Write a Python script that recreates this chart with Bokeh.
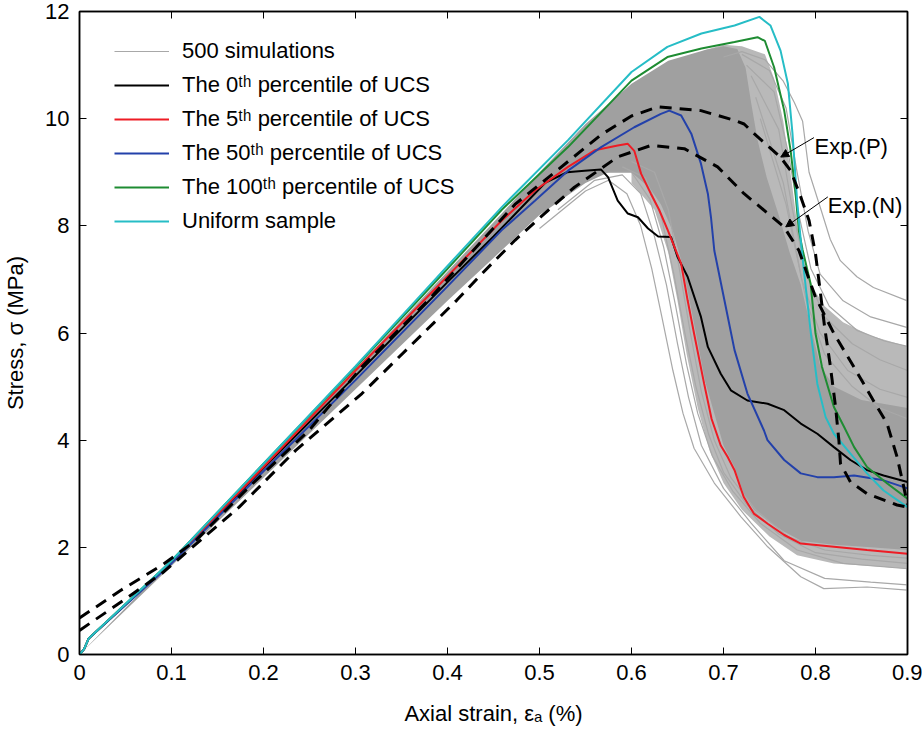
from bokeh.plotting import figure
from bokeh.models import (Range1d, LinearAxis, FixedTicker, CustomJSTickFormatter, Legend, LegendItem,
                          Label, Arrow, NormalHead)
from bokeh.embed import file_html
from bokeh.resources import INLINE

# ---------------- data ----------------
x_ticks = [0, 0.1, 0.2, 0.3, 0.4, 0.5, 0.6, 0.7, 0.8, 0.9]
x_tick_labels = ["0", "0.1", "0.2", "0.3", "0.4", "0.5", "0.6", "0.7", "0.8", "0.9"]
y_ticks = [0, 2, 4, 6, 8, 10, 12]
y_tick_labels = ["0", "2", "4", "6", "8", "10", "12"]

# envelope of the dense part of the 500 simulated curves
band_dense_x = [0, 0.1, 0.2, 0.3, 0.4, 0.46, 0.5, 0.55, 0.6, 0.64, 0.68, 0.70, 0.715,
                0.724, 0.73, 0.737, 0.747, 0.76, 0.772, 0.784, 0.795, 0.805, 0.82, 0.85, 0.9,
                0.9, 0.86, 0.82, 0.785, 0.765, 0.748, 0.733, 0.722, 0.712, 0.70, 0.69, 0.68,
                0.67, 0.662, 0.655, 0.645, 0.632, 0.62, 0.60, 0.575, 0.55, 0.5, 0.45, 0.4,
                0.3, 0.2, 0.1, 0.0]
band_dense_y = [0, 1.74, 3.54, 5.33, 7.15, 8.25, 9.0, 9.9, 10.65, 11.08, 11.28, 11.35, 11.3,
                10.95, 10.3, 9.6, 8.9, 8.2, 7.5, 6.9, 6.1, 5.4, 5.0, 4.75, 4.6,
                1.95, 2.0, 2.05, 2.12, 2.3, 2.5, 2.7, 3.0, 3.5, 3.9, 4.5, 5.1,
                6.0, 6.7, 7.3, 7.9, 8.4, 8.7, 9.0, 9.0, 8.8, 8.2, 7.4, 6.6,
                4.95, 3.3, 1.65, 0.0]
# wider envelope where the simulated curves are sparser
band_loose_x = [0.6, 0.68, 0.70, 0.72, 0.745, 0.755, 0.765, 0.772, 0.778, 0.785, 0.795,
                0.81, 0.83, 0.86, 0.9, 0.9, 0.86, 0.82, 0.78, 0.75, 0.72, 0.70, 0.685,
                0.672, 0.66, 0.65, 0.64, 0.625, 0.6]
band_loose_y = [10.6, 11.28, 11.38, 11.35, 11.2, 10.75, 9.95, 9.1, 8.3, 7.4, 6.9,
                6.5, 6.2, 5.95, 5.75, 1.6, 1.65, 1.7, 1.85, 2.2, 2.7, 3.2, 3.8,
                4.6, 5.6, 6.6, 7.5, 8.3, 8.8]

# individual simulated curves at the edges of the bundle
sim_x = [
    [0.70, 0.72, 0.745, 0.765, 0.777, 0.786, 0.793, 0.806, 0.816, 0.827, 0.845, 0.863, 0.9],
    [0.72, 0.75, 0.768, 0.78, 0.792, 0.805, 0.83, 0.86, 0.9],
    [0.725, 0.755, 0.77, 0.782, 0.795, 0.815, 0.845, 0.875, 0.9],
    [0.73, 0.76, 0.775, 0.79, 0.81, 0.84, 0.87, 0.9],
    [0.735, 0.765, 0.785, 0.805, 0.835, 0.87, 0.9],
    [0.74, 0.768, 0.79, 0.81, 0.84, 0.87, 0.9],
    [0.5, 0.55, 0.575, 0.595, 0.61, 0.622, 0.633, 0.645, 0.656, 0.668, 0.69, 0.719, 0.748, 0.784, 0.809, 0.856, 0.9],
    [0.52, 0.56, 0.59, 0.61, 0.625, 0.638, 0.65, 0.662, 0.676, 0.7, 0.73, 0.766, 0.81, 0.86, 0.9],
    [0.57, 0.6, 0.62, 0.635, 0.648, 0.66, 0.672, 0.688, 0.71, 0.74, 0.78, 0.83, 0.9],
    [0.59, 0.615, 0.632, 0.646, 0.658, 0.67, 0.684, 0.7, 0.725, 0.76, 0.8, 0.85, 0.9],
    [0.6, 0.625, 0.64, 0.652, 0.664, 0.676, 0.69, 0.708, 0.735, 0.77, 0.81, 0.86, 0.9],
]
sim_y = [
    [11.15, 11.25, 11.1, 10.7, 10.3, 9.95, 9.0, 8.3, 7.75, 7.35, 7.05, 6.85, 6.6],
    [11.2, 10.9, 10.2, 9.0, 7.9, 7.1, 6.6, 6.3, 6.1],
    [11.0, 10.5, 9.4, 8.2, 7.2, 6.5, 6.05, 5.85, 5.75],
    [10.8, 9.8, 8.3, 7.1, 6.3, 5.8, 5.5, 5.3],
    [10.4, 8.8, 7.0, 6.0, 5.3, 4.95, 4.8],
    [10.0, 8.4, 6.6, 5.6, 5.0, 4.6, 4.4],
    [7.95, 8.65, 8.85, 8.6, 8.0, 7.2, 6.3, 5.3, 4.5, 3.85, 3.2, 2.57, 2.01, 1.45, 1.23, 1.26, 1.2],
    [8.3, 8.85, 8.95, 8.6, 7.8, 6.9, 5.8, 4.8, 3.9, 3.1, 2.45, 1.75, 1.42, 1.35, 1.3],
    [9.0, 9.0, 8.5, 7.6, 6.5, 5.4, 4.5, 3.7, 3.05, 2.45, 1.95, 1.7, 1.6],
    [9.1, 8.9, 8.2, 7.1, 6.0, 5.0, 4.1, 3.4, 2.8, 2.25, 1.9, 1.78, 1.7],
    [9.2, 9.0, 8.3, 7.2, 6.0, 4.9, 4.0, 3.3, 2.7, 2.2, 1.95, 1.85, 1.8],
]

# 0th percentile of UCS (black)
p0_x = [0, 0.005, 0.01, 0.1, 0.2, 0.3, 0.4, 0.45, 0.506, 0.53, 0.549, 0.567, 0.5745, 0.585, 0.596,
        0.607, 0.618, 0.629, 0.643, 0.65, 0.661, 0.6755, 0.683, 0.697, 0.708, 0.726, 0.748,
        0.766, 0.784, 0.802, 0.82, 0.838, 0.856, 0.874, 0.9]
p0_y = [0, 0.1, 0.3, 1.72, 3.48, 5.2, 6.95, 7.8, 8.8, 9.0, 9.03, 9.05, 8.91, 8.47, 8.23,
        8.16, 7.95, 7.8, 7.79, 7.42, 7.05, 6.3, 5.74, 5.24, 4.93, 4.74, 4.68,
        4.56, 4.31, 4.12, 3.87, 3.63, 3.44, 3.34, 3.22]
# 5th percentile (red)
p5_x = [0, 0.005, 0.01, 0.1, 0.2, 0.3, 0.4, 0.459, 0.495, 0.531, 0.56, 0.585, 0.596, 0.603,
        0.6105, 0.621, 0.63, 0.6394, 0.654, 0.661, 0.668, 0.679, 0.687, 0.697, 0.7044, 0.712,
        0.722, 0.733, 0.748, 0.766, 0.784, 0.82, 0.856, 0.9]
p5_y = [0, 0.1, 0.3, 1.72, 3.5, 5.3, 7.06, 8.1, 8.66, 9.1, 9.41, 9.5, 9.53, 9.4,
        8.97, 8.6, 8.3, 7.92, 7.29, 6.61, 5.99, 5.05, 4.4, 3.9, 3.69, 3.44,
        2.94, 2.63, 2.44, 2.23, 2.07, 2.01, 1.95, 1.88]
# 50th percentile (blue)
p50_x = [0, 0.005, 0.01, 0.1, 0.2, 0.3, 0.4, 0.459, 0.495, 0.531, 0.567, 0.603, 0.632, 0.641,
         0.654, 0.665, 0.6755, 0.683, 0.6864, 0.69, 0.701, 0.712, 0.726, 0.744, 0.7478,
         0.766, 0.784, 0.802, 0.82, 0.842, 0.874, 0.9]
p50_y = [0, 0.1, 0.3, 1.7, 3.42, 5.12, 6.87, 7.92, 8.47, 9.03, 9.47, 9.84, 10.09, 10.15,
         10.06, 9.72, 9.16, 8.6, 8.16, 7.54, 6.61, 5.68, 4.87, 4.18, 4.0,
         3.63, 3.38, 3.31, 3.31, 3.34, 3.25, 3.1]
# 100th percentile (green)
p100_x = [0, 0.005, 0.01, 0.1, 0.2, 0.3, 0.4, 0.459, 0.531, 0.6, 0.639, 0.676, 0.712, 0.737,
          0.745, 0.755, 0.766, 0.773, 0.778, 0.782, 0.786, 0.7947, 0.8, 0.807, 0.82, 0.831,
          0.842, 0.856, 0.878, 0.9]
p100_y = [0, 0.1, 0.3, 1.75, 3.56, 5.36, 7.2, 8.3, 9.47, 10.71, 11.15, 11.31, 11.43, 11.52,
          11.45, 10.96, 10.15, 9.4, 8.66, 7.9, 7.55, 6.92, 5.99, 5.37, 4.62, 4.25,
          3.87, 3.5, 3.19, 2.91]
# uniform sample (cyan)
uni_x = [0, 0.005, 0.01, 0.1, 0.2, 0.3, 0.3657, 0.4, 0.459, 0.531, 0.6, 0.639, 0.676, 0.712,
         0.739, 0.751, 0.762, 0.77, 0.775, 0.78, 0.784, 0.787, 0.795, 0.802, 0.811, 0.82,
         0.838, 0.856, 0.874, 0.9]
uni_y = [0, 0.1, 0.3, 1.75, 3.56, 5.38, 6.61, 7.25, 8.35, 9.6, 10.87, 11.34, 11.59, 11.74,
         11.9, 11.74, 11.27, 10.65, 9.72, 8.47, 7.73, 7.23, 5.99, 5.05, 4.43, 4.12,
         3.75, 3.38, 3.06, 2.75]
# experiments (dashed)
expP_x = [0, 0.045, 0.09, 0.1266, 0.1844, 0.2494, 0.307, 0.379, 0.4733, 0.531, 0.567, 0.6,
          0.6286, 0.6755, 0.7116, 0.7224, 0.7333, 0.7478, 0.762, 0.773, 0.784, 0.793, 0.8,
          0.805, 0.81, 0.816, 0.8218, 0.8254, 0.8272, 0.838, 0.856, 0.8886, 0.9]
expP_y = [0.68, 1.2, 1.67, 2.13, 3.13, 4.18, 5.37, 6.61, 8.4, 9.2, 9.7, 10.05,
          10.22, 10.15, 9.97, 9.9, 9.72, 9.5, 9.28, 9.03, 8.54, 8.1, 7.48,
          6.8, 6.1, 5.4, 4.62, 4.0, 3.56, 3.22, 3.0, 2.79, 2.75]
expN_x = [0, 0.047, 0.09, 0.1735, 0.235, 0.307, 0.41, 0.437, 0.4733, 0.5094, 0.538, 0.5853,
          0.6213, 0.6574, 0.6936, 0.7224, 0.7658, 0.782, 0.791, 0.8, 0.82, 0.8416, 0.867,
          0.8778, 0.8886, 0.895, 0.9]
expN_y = [0.45, 1.0, 1.52, 2.75, 3.81, 4.87, 6.61, 7.1, 7.73, 8.29, 8.72, 9.29,
          9.5, 9.44, 9.1, 8.6, 7.98, 7.54, 7.1, 6.67, 5.99, 5.37, 4.62,
          4.31, 3.69, 3.2, 2.8]

# ---------------- figure ----------------
FONT = "Liberation Sans"
p = figure(width=922, height=733, x_range=Range1d(0, 0.9), y_range=Range1d(0, 12),
           output_backend="svg", toolbar_location=None,
           min_border_left=76, min_border_right=15, min_border_top=11, min_border_bottom=79)
p.xgrid.grid_line_color = None
p.ygrid.grid_line_color = None
p.outline_line_color = "black"
p.outline_line_width = 1.5
p.background_fill_color = "white"

p.xaxis.ticker = FixedTicker(ticks=x_ticks)
p.xaxis.major_label_overrides = {t: l for t, l in zip(x_ticks, x_tick_labels)}
p.yaxis.ticker = FixedTicker(ticks=y_ticks)
p.yaxis.major_label_overrides = {t: l for t, l in zip(y_ticks, y_tick_labels)}
for ax in (p.xaxis[0], p.yaxis[0]):
    ax.major_tick_in = 7
    ax.major_tick_out = 0
    ax.minor_tick_in = 0
    ax.minor_tick_out = 0
    ax.axis_line_color = "black"
    ax.axis_line_width = 1.5
    ax.major_tick_line_color = "black"
    ax.major_tick_line_width = 1
    ax.major_label_text_font = FONT
    ax.major_label_text_font_size = "22px"
    ax.major_label_text_color = "black"
    ax.axis_label_text_font = FONT
    ax.axis_label_text_font_size = "22px"
    ax.axis_label_text_font_style = "normal"
    ax.axis_label_text_color = "black"
p.xaxis.axis_label = "Axial strain, \u03b5\u2090 (%)"
p.yaxis.axis_label = "Stress, \u03c3 (MPa)"
p.xaxis.major_label_standoff = 10
p.yaxis.major_label_standoff = 10
p.xaxis.axis_label_standoff = 18
p.yaxis.axis_label_standoff = 14

# mirrored inward ticks on the top and right
for loc, ticks in (("above", x_ticks), ("right", y_ticks)):
    ax = LinearAxis(ticker=FixedTicker(ticks=ticks),
                    formatter=CustomJSTickFormatter(code="return ''"),
                    major_tick_in=7, major_tick_out=0, minor_tick_in=0, minor_tick_out=0,
                    major_label_standoff=0, axis_line_color="black", axis_line_width=1.5,
                    major_tick_line_color="black")
    p.add_layout(ax, loc)

# simulated bundle
p.patch(band_loose_x, band_loose_y, fill_color="#b9b9b9", line_color=None)
p.patch(band_dense_x, band_dense_y, fill_color="#a0a0a0", line_color=None)
r_sim = p.multi_line(sim_x, sim_y, line_color="#a8a8a8", line_width=1.2)

r0 = p.line(p0_x, p0_y, line_color="black", line_width=2)
r5 = p.line(p5_x, p5_y, line_color="#ee1c25", line_width=2)
r50 = p.line(p50_x, p50_y, line_color="#2341aa", line_width=2)
r100 = p.line(p100_x, p100_y, line_color="#1e8c32", line_width=2)
runi = p.line(uni_x, uni_y, line_color="#26bdc6", line_width=2)

p.line(expP_x, expP_y, line_color="black", line_width=3, line_dash="12 8")
p.line(expN_x, expN_y, line_color="black", line_width=3, line_dash="12 8")

# annotations
p.add_layout(Label(x=0.799, y=9.48, text="Exp.(P)", text_font=FONT, text_font_size="22px",
                   text_baseline="alphabetic", text_color="black"))
p.add_layout(Label(x=0.8134, y=8.38, text="Exp.(N)", text_font=FONT, text_font_size="22px",
                   text_baseline="alphabetic", text_color="black"))
p.add_layout(Arrow(end=NormalHead(size=8, fill_color="black", line_color="black"),
                   x_start=0.7983, y_start=9.646, x_end=0.7622, y_end=9.283,
                   line_color="black", line_width=1))
p.add_layout(Arrow(end=NormalHead(size=8, fill_color="black", line_color="black"),
                   x_start=0.8134, y_start=8.54, x_end=0.7676, y_end=7.98,
                   line_color="black", line_width=1))

legend = Legend(items=[
    LegendItem(label="500 simulations", renderers=[r_sim]),
    LegendItem(label="The 0\u1d57\u02b0 percentile of UCS", renderers=[r0]),
    LegendItem(label="The 5\u1d57\u02b0 percentile of UCS", renderers=[r5]),
    LegendItem(label="The 50\u1d57\u02b0 percentile of UCS", renderers=[r50]),
    LegendItem(label="The 100\u1d57\u02b0 percentile of UCS", renderers=[r100]),
    LegendItem(label="Uniform sample", renderers=[runi]),
], location=(35, 418), padding=0, margin=0, border_line_color=None, background_fill_alpha=0,
   glyph_width=55, glyph_height=30, label_height=30, spacing=4, label_standoff=13,
   label_text_font=FONT, label_text_font_size="22px", label_text_color="black")
p.add_layout(legend)

open("out.html", "w").write(file_html(p, INLINE))
